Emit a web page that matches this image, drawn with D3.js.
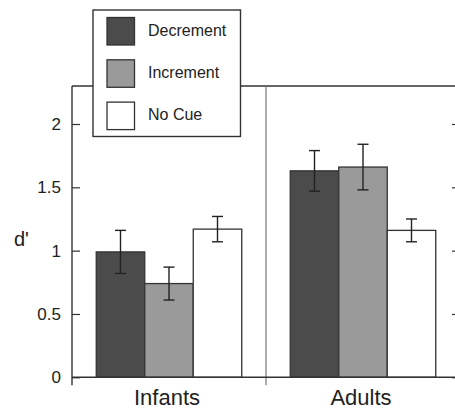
<!DOCTYPE html>
<html>
<head>
<meta charset="utf-8">
<script src="https://cdn.jsdelivr.net/npm/d3@7"></script>
<style>
  body { margin: 0; background: #fff; }
  svg text { font-family: "Liberation Sans", Arial, sans-serif; fill: #222; }
</style>
</head>
<body>
<div id="chart"></div>
<script>
// data
let groups = ["Infants", "Adults"];
let conditions = ["Decrement", "Increment", "No Cue"];
let dPrime = [[0.99, 0.74, 1.17], [1.63, 1.66, 1.16]];
let errors = [[0.17, 0.13, 0.10], [0.16, 0.18, 0.09]];
let yTicks = [0, 0.5, 1, 1.5, 2];

let colors = ["#4b4b4b", "#9a9a9a", "#ffffff"];

let width = 455, height = 411;
let plotLeft = 72, plotRight = 460, plotTop = 86, plotBottom = 377.3;

let svg = d3.select("#chart")
  .append("svg")
  .attr("width", width)
  .attr("height", height);

let y = d3.scaleLinear().domain([0, 2.3]).range([plotBottom, plotTop]);
let xGroup = d3.scaleBand().domain(groups).range([plotLeft, plotRight]);
let xCond = d3.scaleBand().domain(conditions)
  .range([0, xGroup.bandwidth()])
  .paddingInner(0).paddingOuter(0.5);

let data = [];
groups.forEach(function(g, gi) {
  conditions.forEach(function(c, ci) {
    data.push({group: g, cond: c, value: dPrime[gi][ci], err: errors[gi][ci], color: colors[ci]});
  });
});

// frame lines
svg.append("line")
  .attr("x1", plotLeft).attr("x2", plotRight)
  .attr("y1", plotTop).attr("y2", plotTop)
  .attr("stroke", "#333").attr("stroke-width", 1.4);

svg.append("line")
  .attr("x1", xGroup("Adults")).attr("x2", xGroup("Adults"))
  .attr("y1", plotTop).attr("y2", plotBottom + 8)
  .attr("stroke", "#777").attr("stroke-width", 1.2);

// bars
svg.selectAll(".bar")
  .data(data)
.enter().append("rect")
  .attr("class", "bar")
  .attr("x", function(d) { return xGroup(d.group) + xCond(d.cond); })
  .attr("y", function(d) { return y(d.value); })
  .attr("width", xCond.bandwidth())
  .attr("height", function(d) { return y(0) - y(d.value); })
  .attr("fill", function(d) { return d.color; })
  .attr("stroke", "#333")
  .attr("stroke-width", 1.3);

// error bars
let cap = 5.5;
function cx(d) { return xGroup(d.group) + xCond(d.cond) + xCond.bandwidth() / 2; }

svg.selectAll(".errline")
  .data(data)
.enter().append("line")
  .attr("x1", cx).attr("x2", cx)
  .attr("y1", function(d) { return y(d.value + d.err); })
  .attr("y2", function(d) { return y(d.value - d.err); })
  .attr("stroke", "#222").attr("stroke-width", 1.4);

svg.selectAll(".errtop")
  .data(data)
.enter().append("line")
  .attr("x1", function(d) { return cx(d) - cap; })
  .attr("x2", function(d) { return cx(d) + cap; })
  .attr("y1", function(d) { return y(d.value + d.err); })
  .attr("y2", function(d) { return y(d.value + d.err); })
  .attr("stroke", "#222").attr("stroke-width", 1.4);

svg.selectAll(".errbot")
  .data(data)
.enter().append("line")
  .attr("x1", function(d) { return cx(d) - cap; })
  .attr("x2", function(d) { return cx(d) + cap; })
  .attr("y1", function(d) { return y(d.value - d.err); })
  .attr("y2", function(d) { return y(d.value - d.err); })
  .attr("stroke", "#222").attr("stroke-width", 1.4);

// axes
let yAxis = svg.append("g")
  .attr("transform", "translate(" + plotLeft + ",0)")
  .call(d3.axisLeft(y).tickValues(yTicks).tickSize(-8).tickPadding(11)
    .tickFormat(function(d) { return d; }));
yAxis.select(".domain").remove();
yAxis.selectAll(".tick line").attr("stroke", "#333").attr("stroke-width", 1.2);
yAxis.selectAll("text").style("font-size", "17px").attr("fill", "#222");

let yAxisR = svg.append("g")
  .attr("transform", "translate(" + plotRight + ",0)")
  .call(d3.axisRight(y).tickValues(yTicks).tickSize(-8).tickFormat(""));
yAxisR.select(".domain").remove();
yAxisR.selectAll(".tick line").attr("stroke", "#333").attr("stroke-width", 1.2);

svg.append("line")
  .attr("x1", plotLeft).attr("x2", plotLeft)
  .attr("y1", plotTop).attr("y2", plotBottom + 8)
  .attr("stroke", "#333").attr("stroke-width", 1.4);

svg.append("line")
  .attr("x1", plotLeft).attr("x2", plotRight)
  .attr("y1", plotBottom).attr("y2", plotBottom)
  .attr("stroke", "#333").attr("stroke-width", 1.4);

// group labels
svg.selectAll(".grouplabel")
  .data(groups)
.enter().append("text")
  .attr("x", function(d) { return xGroup(d) + xGroup.bandwidth() / 2 - 2; })
  .attr("y", 405)
  .style("text-anchor", "middle")
  .style("font-size", "22px")
  .text(function(d) { return d; });

// axis title
svg.append("text")
  .attr("x", 14).attr("y", 246)
  .style("font-size", "20px")
  .text("d'");

// legend
let legend = svg.append("g");
legend.append("rect")
  .attr("x", 93).attr("y", 10)
  .attr("width", 147.5).attr("height", 126.5)
  .attr("fill", "#fff").attr("stroke", "#333").attr("stroke-width", 1.4);

legend.selectAll(".swatch")
  .data(conditions)
.enter().append("rect")
  .attr("x", 107)
  .attr("y", function(d, i) { return 17.5 + i * 42.3; })
  .attr("width", 27.5).attr("height", 27.5)
  .attr("fill", function(d, i) { return colors[i]; })
  .attr("stroke", "#333").attr("stroke-width", 1.3);

legend.selectAll(".legendlabel")
  .data(conditions)
.enter().append("text")
  .attr("x", 148)
  .attr("y", function(d, i) { return 35.5 + i * 42.3; })
  .style("font-size", "16px")
  .text(function(d) { return d; });
</script>
</body>
</html>
